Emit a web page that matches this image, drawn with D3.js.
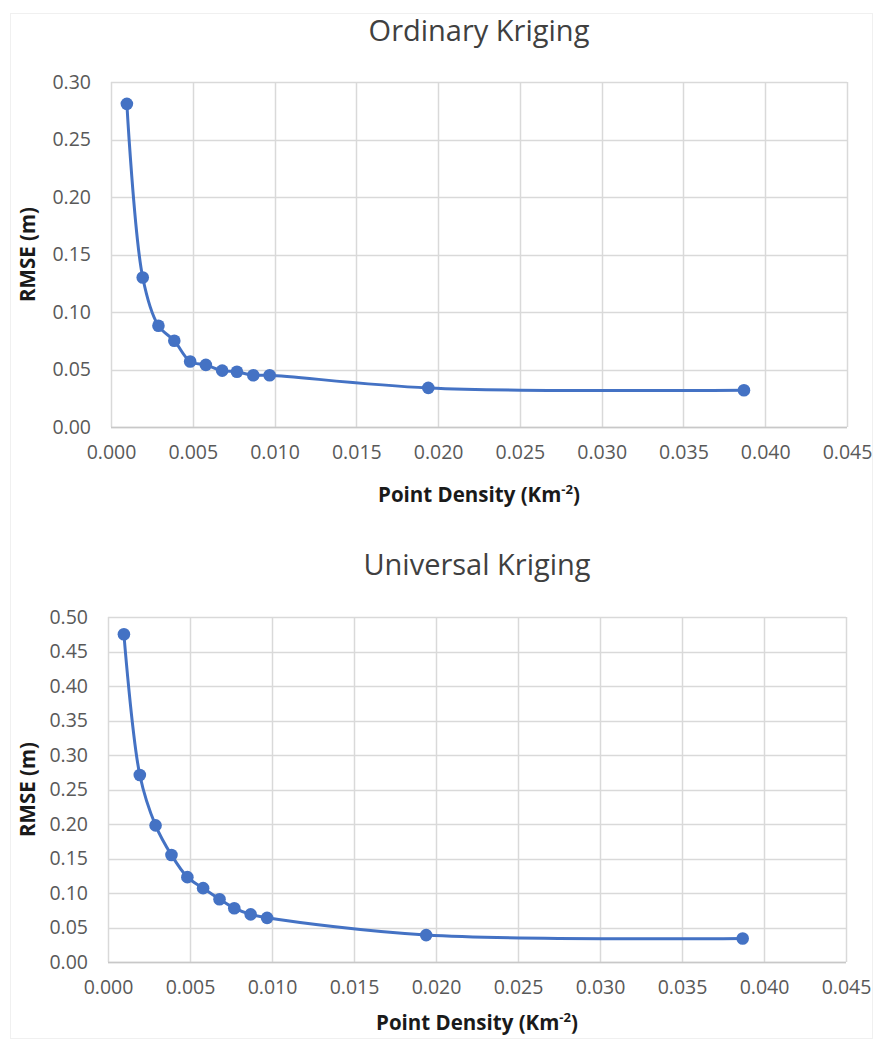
<!DOCTYPE html>
<html>
<head>
<meta charset="utf-8">
<script src="https://cdn.jsdelivr.net/npm/d3@7/dist/d3.min.js"></script>
<style>
  html, body { margin: 0; padding: 0; background: #fff; }
  svg { display: block; }
</style>
</head>
<body>
<svg id="chart" width="875" height="1041"></svg>
<script>
// ---- Data ----
const density = [0.00097, 0.00194, 0.0029, 0.00387, 0.00484, 0.0058, 0.0068, 0.0077, 0.0087, 0.0097, 0.0194, 0.0387];
const rmseOrdinary = [0.281, 0.130, 0.088, 0.075, 0.057, 0.054, 0.049, 0.048, 0.045, 0.045, 0.034, 0.032];
const rmseUniversal = [0.475, 0.271, 0.198, 0.155, 0.123, 0.107, 0.091, 0.078, 0.069, 0.064, 0.039, 0.034];
const xTicks = [0, 0.005, 0.010, 0.015, 0.020, 0.025, 0.030, 0.035, 0.040, 0.045];
const yTicksOrdinary = [0, 0.05, 0.10, 0.15, 0.20, 0.25, 0.30];
const yTicksUniversal = [0, 0.05, 0.10, 0.15, 0.20, 0.25, 0.30, 0.35, 0.40, 0.45, 0.50];
const titles = ["Ordinary Kriging", "Universal Kriging"];
const yLabel = "RMSE (m)";

const svg = d3.select("#chart");
const FONT = "'Open Sans', 'Noto Sans', sans-serif";
const BLUE = "#4472C4";

// faint outer frame
svg.append("rect").attr("x", 10.5).attr("y", 13.5).attr("width", 862).attr("height", 1025)
  .attr("fill", "#fff").attr("stroke", "#f0f0f0").attr("stroke-width", 1);

function drawChart(cfg) {
  const { left, right, top, bottom, yMax, yTicks, values, title, titleY } = cfg;
  const g = svg.append("g");
  const x = d3.scaleLinear().domain([0, 0.045]).range([left, right]);
  const y = d3.scaleLinear().domain([0, yMax]).range([bottom, top]);

  // Title
  g.append("text").attr("x", (left + right) / 2).attr("y", titleY)
    .attr("text-anchor", "middle").attr("font-family", FONT)
    .attr("font-size", 29).attr("fill", "#404040").text(title);

  // Gridlines
  g.append("g").selectAll("line.h").data(yTicks).join("line")
    .attr("x1", left).attr("x2", right)
    .attr("y1", d => Math.round(y(d)) + 0.5).attr("y2", d => Math.round(y(d)) + 0.5)
    .attr("stroke", "#d9d9d9").attr("stroke-width", 1.5);
  g.append("g").selectAll("line.v").data(xTicks).join("line")
    .attr("y1", top).attr("y2", bottom)
    .attr("x1", d => Math.round(x(d)) + 0.5).attr("x2", d => Math.round(x(d)) + 0.5)
    .attr("stroke", "#d9d9d9").attr("stroke-width", 1.5);
  // bottom axis line
  g.append("line").attr("x1", left).attr("x2", right)
    .attr("y1", Math.round(y(0)) + 0.5).attr("y2", Math.round(y(0)) + 0.5)
    .attr("stroke", "#c8c8c8").attr("stroke-width", 1.5);

  // Y axis (labels only)
  const yAxis = d3.axisLeft(y).tickValues(yTicks).tickFormat(d3.format(".2f")).tickSize(0).tickPadding(20);
  const ya = g.append("g").attr("transform", `translate(${left},0)`).call(yAxis);
  ya.select(".domain").remove();
  ya.selectAll("text").attr("font-family", FONT).attr("font-size", 19.5).attr("fill", "#595959");

  // X axis (labels only)
  const xAxis = d3.axisBottom(x).tickValues(xTicks).tickFormat(d3.format(".3f")).tickSize(0).tickPadding(18);
  const xa = g.append("g").attr("transform", `translate(0,${bottom})`).call(xAxis);
  xa.select(".domain").remove();
  xa.selectAll("text").attr("font-family", FONT).attr("font-size", 19.5).attr("fill", "#595959");

  // Axis titles
  g.append("text")
    .attr("transform", `translate(${cfg.yTitleX},${(top + bottom) / 2}) rotate(-90)`)
    .attr("text-anchor", "middle").attr("font-family", FONT).attr("font-weight", "bold")
    .attr("font-size", 20.5).attr("fill", "#1a1a1a").text(yLabel);

  const xt = g.append("text").attr("x", (left + right) / 2).attr("y", bottom + cfg.xTitleOffset)
    .attr("text-anchor", "middle").attr("font-family", FONT).attr("font-weight", "bold")
    .attr("font-size", 20.5).attr("fill", "#1a1a1a");
  xt.append("tspan").text("Point Density (Km");
  xt.append("tspan").attr("font-size", 13).attr("dy", -8).text("-2");
  xt.append("tspan").attr("dy", 8).text(")");

  // Series
  const pts = density.map((d, i) => [d, values[i]]);
  const line = d3.line().x(d => x(d[0])).y(d => y(d[1])).curve(d3.curveCatmullRom.alpha(0.5));
  g.append("path").datum(pts).attr("d", line)
    .attr("fill", "none").attr("stroke", BLUE).attr("stroke-width", 3);
  g.append("g").selectAll("circle").data(pts).join("circle")
    .attr("cx", d => x(d[0])).attr("cy", d => y(d[1])).attr("r", 6.3)
    .attr("fill", BLUE);
}

drawChart({
  left: 111, right: 847, top: 82, bottom: 427, yMax: 0.30, yTicks: yTicksOrdinary,
  values: rmseOrdinary, title: titles[0], titleY: 41, yTitleX: 35, xTitleOffset: 75
});
drawChart({
  left: 108, right: 846, top: 617, bottom: 962, yMax: 0.50, yTicks: yTicksUniversal,
  values: rmseUniversal, title: titles[1], titleY: 575, yTitleX: 35, xTitleOffset: 68
});
</script>
</body>
</html>
